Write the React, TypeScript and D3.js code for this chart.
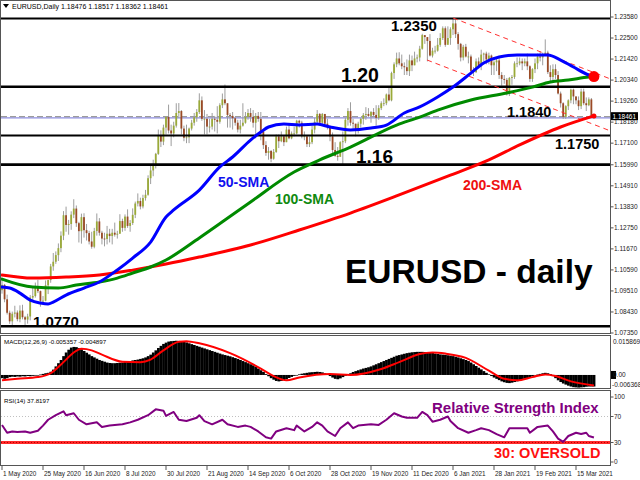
import React from "react";
import * as d3 from "d3";

// ---------------- DATA ----------------
const FIRST_OPEN = 1.0955;
// daily bars: [close, high, low]  (open = previous close)
const may2020 = [
  [1.0982, 1.1019, 1.0937], [1.0908, 1.0987, 1.0893], [1.0839, 1.0932, 1.083], [1.0795, 1.085, 1.0782], [1.0834, 1.0845, 1.0767],
  [1.084, 1.0875, 1.0815], [1.0806, 1.0851, 1.0795], [1.085, 1.0877, 1.079], [1.0816, 1.088, 1.0805], [1.0804, 1.0823, 1.0775],
  [1.082, 1.0834, 1.0783], [1.0917, 1.093, 1.08], [1.0925, 1.0976, 1.0903], [1.0976, 1.0994, 1.0917], [1.095, 1.1008, 1.094],
  [1.09, 1.0953, 1.087], [1.0901, 1.0925, 1.0886], [1.098, 1.1005, 1.0898], [1.1007, 1.1009, 1.0935], [1.1077, 1.109, 1.0993],
  [1.1101, 1.1146, 1.1055],
];
const jun2020 = [
  [1.1135, 1.1154, 1.109], [1.1171, 1.1195, 1.1105], [1.1235, 1.1257, 1.115], [1.134, 1.1361, 1.1212], [1.129, 1.1384, 1.1255],
  [1.1295, 1.1316, 1.124], [1.1343, 1.136, 1.1265], [1.1374, 1.1422, 1.1325], [1.1299, 1.139, 1.128], [1.1258, 1.1306, 1.12],
  [1.133, 1.1348, 1.1194], [1.1263, 1.135, 1.1225], [1.1248, 1.1295, 1.121], [1.1205, 1.126, 1.119], [1.1178, 1.1255, 1.1168],
  [1.1259, 1.1275, 1.117], [1.1308, 1.1349, 1.1235], [1.125, 1.1325, 1.1235], [1.122, 1.126, 1.119], [1.1218, 1.125, 1.118],
  [1.1245, 1.1285, 1.119], [1.1233, 1.127, 1.12],
];
const jul2020 = [
  [1.125, 1.127, 1.119], [1.124, 1.1302, 1.123], [1.1245, 1.126, 1.122], [1.131, 1.1345, 1.1245], [1.1275, 1.1322, 1.1255],
  [1.1333, 1.1344, 1.126], [1.1285, 1.137, 1.1275], [1.13, 1.1315, 1.1255], [1.1342, 1.1375, 1.129], [1.14, 1.141, 1.1325],
  [1.1413, 1.1452, 1.1385], [1.1385, 1.143, 1.137], [1.1428, 1.1445, 1.1375], [1.1445, 1.147, 1.1415], [1.153, 1.1545, 1.144],
  [1.157, 1.1601, 1.15], [1.1595, 1.1625, 1.154], [1.1655, 1.166, 1.158], [1.175, 1.178, 1.165], [1.1718, 1.1776, 1.169],
  [1.179, 1.1805, 1.17], [1.1845, 1.1848, 1.1755], [1.1775, 1.1908, 1.176],
];
const aug2020 = [
  [1.176, 1.1805, 1.1695], [1.18, 1.182, 1.174], [1.1865, 1.1915, 1.179], [1.1875, 1.1916, 1.184], [1.1785, 1.188, 1.1755],
  [1.1738, 1.18, 1.172], [1.174, 1.1805, 1.171], [1.1785, 1.179, 1.171], [1.1815, 1.183, 1.1775], [1.1843, 1.1865, 1.18],
  [1.187, 1.1885, 1.182], [1.193, 1.1966, 1.186], [1.1835, 1.195, 1.1825], [1.1835, 1.188, 1.1755], [1.1795, 1.186, 1.1755],
  [1.1795, 1.1835, 1.1765], [1.1835, 1.1865, 1.178], [1.183, 1.185, 1.177], [1.182, 1.19, 1.176], [1.1905, 1.1915, 1.181],
  [1.1935, 1.1965, 1.189],
];
const sep2020 = [
  [1.1915, 1.2011, 1.1905], [1.1855, 1.1915, 1.179], [1.185, 1.1865, 1.179], [1.1838, 1.187, 1.178], [1.1815, 1.1845, 1.18],
  [1.178, 1.183, 1.1765], [1.18, 1.183, 1.176], [1.1815, 1.1915, 1.1795], [1.1845, 1.187, 1.181], [1.1865, 1.1885, 1.183],
  [1.1845, 1.189, 1.182], [1.1815, 1.188, 1.179], [1.185, 1.1865, 1.1735], [1.1835, 1.187, 1.182], [1.177, 1.187, 1.1725],
  [1.17, 1.178, 1.168], [1.166, 1.172, 1.1645], [1.167, 1.169, 1.1625], [1.163, 1.1675, 1.1612], [1.1665, 1.168, 1.1625],
  [1.1745, 1.1755, 1.166], [1.172, 1.1755, 1.1685],
];
const oct2020 = [
  [1.1745, 1.177, 1.1715], [1.1715, 1.175, 1.1695], [1.178, 1.1795, 1.1715], [1.1735, 1.1805, 1.173], [1.176, 1.177, 1.173],
  [1.176, 1.1795, 1.1745], [1.1825, 1.183, 1.1755], [1.1815, 1.183, 1.179], [1.1745, 1.1825, 1.1735], [1.1745, 1.177, 1.1725],
  [1.1705, 1.175, 1.169], [1.1715, 1.1745, 1.169], [1.178, 1.18, 1.1705], [1.182, 1.184, 1.176], [1.186, 1.188, 1.1805],
  [1.1815, 1.1865, 1.18], [1.186, 1.1865, 1.1805], [1.181, 1.186, 1.18], [1.1795, 1.1835, 1.178], [1.1745, 1.18, 1.172],
  [1.1675, 1.1765, 1.165], [1.1645, 1.1715, 1.164],
];
const nov2020 = [
  [1.164, 1.169, 1.162], [1.1715, 1.172, 1.164], [1.172, 1.177, 1.1603], [1.183, 1.184, 1.171], [1.1875, 1.189, 1.18],
  [1.1815, 1.192, 1.18], [1.181, 1.1835, 1.178], [1.178, 1.181, 1.1745], [1.181, 1.182, 1.176], [1.1835, 1.184, 1.179],
  [1.1855, 1.1865, 1.1805], [1.186, 1.1895, 1.183], [1.185, 1.189, 1.1845], [1.187, 1.1875, 1.1815], [1.1855, 1.189, 1.1845],
  [1.184, 1.1905, 1.18], [1.189, 1.1905, 1.183], [1.1915, 1.1925, 1.188], [1.1915, 1.194, 1.19], [1.196, 1.1965, 1.1905],
  [1.193, 1.2, 1.1925],
];
const dec2020 = [
  [1.207, 1.2077, 1.1925], [1.2115, 1.2125, 1.204], [1.2145, 1.2175, 1.21], [1.212, 1.2177, 1.211], [1.2105, 1.2165, 1.209],
  [1.21, 1.2125, 1.206], [1.208, 1.214, 1.206], [1.2135, 1.2165, 1.2055], [1.211, 1.216, 1.208], [1.2145, 1.218, 1.211],
  [1.215, 1.2165, 1.2125], [1.2195, 1.221, 1.213], [1.2265, 1.2272, 1.219], [1.2255, 1.2265, 1.222], [1.2235, 1.225, 1.213],
  [1.216, 1.227, 1.2155], [1.2185, 1.22, 1.215], [1.2185, 1.221, 1.217], [1.2215, 1.225, 1.218], [1.225, 1.2275, 1.2205],
  [1.23, 1.231, 1.224], [1.2215, 1.231, 1.2205],
];
const jan2021 = [
  [1.225, 1.231, 1.2225], [1.2295, 1.2305, 1.2215], [1.2325, 1.2349, 1.2265], [1.227, 1.2345, 1.225], [1.222, 1.228, 1.219],
  [1.215, 1.2225, 1.213], [1.2205, 1.2215, 1.2135], [1.2155, 1.222, 1.215], [1.2155, 1.218, 1.212], [1.208, 1.2165, 1.2075],
  [1.2075, 1.21, 1.2055], [1.213, 1.2145, 1.207], [1.2105, 1.215, 1.2095], [1.2165, 1.219, 1.2085], [1.217, 1.2175, 1.213],
  [1.214, 1.218, 1.2115], [1.216, 1.2175, 1.2115], [1.211, 1.2165, 1.206], [1.2125, 1.2135, 1.206], [1.2135, 1.215, 1.208],
];
const feb2021 = [
  [1.206, 1.215, 1.204], [1.204, 1.2075, 1.2005], [1.2035, 1.206, 1.2015], [1.1965, 1.2045, 1.1955], [1.2045, 1.205, 1.1952],
  [1.205, 1.206, 1.201], [1.212, 1.213, 1.204], [1.212, 1.215, 1.21], [1.213, 1.215, 1.211], [1.212, 1.2145, 1.2085],
  [1.213, 1.2145, 1.2105], [1.2105, 1.217, 1.2085], [1.204, 1.211, 1.2025], [1.209, 1.2095, 1.2025], [1.212, 1.2145, 1.207],
  [1.2155, 1.217, 1.209], [1.215, 1.218, 1.213], [1.2165, 1.2175, 1.211], [1.2175, 1.2243, 1.216], [1.2075, 1.2185, 1.2065],
];
const mar2021 = [
  [1.205, 1.211, 1.2025], [1.209, 1.2115, 1.203], [1.206, 1.2115, 1.204], [1.1965, 1.208, 1.196], [1.1915, 1.1975, 1.1893],
  [1.1845, 1.192, 1.1835], [1.19, 1.1905, 1.1835], [1.193, 1.1935, 1.188], [1.1985, 1.199, 1.1915], [1.195, 1.199, 1.191],
  [1.193, 1.195, 1.191], [1.19, 1.195, 1.188], [1.1975, 1.199, 1.1885], [1.1915, 1.199, 1.1905], [1.1905, 1.1945, 1.1875],
  [1.1935, 1.1945, 1.19], [1.18476, 1.1942, 1.1842], [1.18461, 1.18517, 1.18362],
];

// moving averages: [bar, price]
const sma50 = [
  [0, 1.0971], [3, 1.0966], [7, 1.094], [11, 1.0904], [15, 1.0889], [18, 1.0884], [20, 1.0894], [25, 1.093], [32, 1.0966],
  [38, 1.0997], [45, 1.1059], [51, 1.112], [58, 1.1202], [64, 1.1331], [67, 1.1367], [77, 1.1469], [85, 1.1588], [90, 1.1639],
  [97, 1.1726], [101, 1.1767], [104, 1.1793], [110, 1.1808], [116, 1.1803], [123, 1.1808], [128, 1.1793], [136, 1.1778],
  [144, 1.1788], [150, 1.1803], [157, 1.1865], [163, 1.1896], [170, 1.1947], [176, 1.1998], [183, 1.207], [188, 1.2122],
  [194, 1.2153], [201, 1.2163], [207, 1.2163], [213, 1.2163], [218, 1.2137], [223, 1.2101], [229, 1.206], [231, 1.2052],
];
const sma100 = [
  [0, 1.1012], [12, 1.0971], [22, 1.0966], [29, 1.0981], [38, 1.0997], [45, 1.1017], [51, 1.1043], [58, 1.1074], [64, 1.111],
  [77, 1.1223], [87, 1.1315], [97, 1.1408], [114, 1.1562], [124, 1.1624], [136, 1.169], [154, 1.1803], [163, 1.1844],
  [170, 1.188], [183, 1.1932], [197, 1.1968], [207, 1.1998], [214, 1.2024], [221, 1.2034], [229, 1.205], [231, 1.2052],
];
const sma200 = [
  [0, 1.1033], [12, 1.1017], [25, 1.1022], [38, 1.1033], [51, 1.1058], [64, 1.1089], [77, 1.1125], [97, 1.1187],
  [116, 1.1264], [136, 1.1351], [155, 1.1444], [175, 1.1546], [190, 1.1624], [202, 1.1701], [218, 1.1793], [231, 1.185],
];

// MACD(12,26,9) main line per bar, in units of 1e-4
const macdMain = [
  -15, -18, -15, -10, -8, -9, -7, -8, -6, -7, -5, -6, -4, -3, -1, 2, 5, 8, 10, 15, 25, 40, 55, 70, 88,
  105, 118, 128, 131, 130, 126, 120, 112, 104, 96, 88, 82, 76, 70, 66, 62, 58, 56, 55, 55, 56, 57, 58,
  60, 62, 65, 68, 70, 72, 75, 78, 82, 88, 95, 105, 115, 126, 136, 145, 151, 156, 158, 159, 160, 159, 157, 155,
  152, 148, 144, 140, 136, 132, 128, 124, 120, 116, 112, 108, 104, 100, 96, 93, 90, 87,
  83, 79, 75, 70, 65, 60, 55, 50, 45, 38, 30, 22, 14, 4, -6, -15, -22, -28, -30, -28, -24, -20, -14, -9, -4,
  0, 3, 6, 8, 10, 12, 13, 14, 15, 14, 12, 8, 3, -5, -12, -18, -20, -16, -10, -4, 2, 8, 14, 18, 22, 26, 30, 33,
  36, 40, 45, 50, 55, 60, 65, 70, 75, 80, 85, 90, 93, 96, 99, 102, 104, 106, 107, 108, 108, 108, 107, 106, 105, 103,
  100, 98, 96, 95, 94, 92, 90, 88, 85, 82, 78, 74, 70, 65, 58, 50, 42, 34, 26, 18, 10, 3,
  -5, -12, -18, -24, -30, -34, -37, -38, -36, -33, -30, -26, -22, -18, -14, -10, -6, -2, 2, 5, 8, 10, 8,
  4, -5, -15, -25, -33, -40, -45, -50, -54, -57, -58, -59, -58, -57, -55, -54, -54, -54,
];
// MACD signal line: [bar, value*1e-4]
const macdSignal = [
  [0, -25], [6, -18], [14, -10], [19, 8], [24, 60], [28, 105], [31, 122], [35, 115], [39, 95], [47, 62], [54, 60], [58, 72],
  [63, 115], [69, 155], [72, 158], [77, 148], [89, 102], [101, 30], [106, -5], [111, -25], [116, -12], [128, 4], [136, 0],
  [148, 28], [155, 60], [163, 98], [168, 105], [173, 100], [181, 80], [190, 20], [196, -18], [201, -25], [207, -10],
  [212, 2], [216, -5], [222, -30], [231, -49],
];
// RSI(14): [bar, value]
const rsi14 = [
  [0, 57], [2, 45], [4, 47], [6, 46], [9, 47], [11, 45], [14, 48], [16, 56], [18, 65], [21, 72], [24, 78], [25, 72], [28, 75],
  [30, 65], [33, 58], [37, 61], [39, 54], [42, 56], [47, 58], [50, 61], [53, 65], [57, 72], [60, 81], [63, 79], [64, 71],
  [67, 77], [69, 65], [72, 63], [76, 68], [77, 72], [79, 63], [82, 58], [86, 65], [88, 58], [92, 54], [95, 56], [97, 54],
  [100, 47], [103, 38], [105, 36], [107, 47], [111, 52], [114, 49], [115, 56], [118, 47], [121, 54], [123, 61], [125, 56],
  [127, 47], [130, 40], [132, 52], [135, 61], [137, 52], [139, 56], [144, 58], [147, 57], [150, 65], [153, 75], [156, 70],
  [158, 68], [162, 68], [164, 77], [166, 72], [168, 62], [171, 65], [174, 70], [175, 63], [178, 52], [182, 45], [185, 49],
  [187, 52], [190, 49], [193, 43], [196, 38], [198, 52], [201, 52], [205, 52], [206, 45], [209, 54], [213, 56], [215, 47],
  [217, 36], [219, 31], [221, 40], [224, 45], [226, 43], [228, 45], [229, 40], [231, 37.8],
];

const priceTickLabels = ["1.23580", "1.22500", "1.21420", "1.20340", "1.19260", "1.18180", "1.17100", "1.15990",
  "1.14910", "1.13830", "1.12750", "1.11670", "1.10590", "1.09510", "1.08430", "1.07350"];
const dateLabels = ["1 May 2020", "25 May 2020", "16 Jun 2020", "8 Jul 2020", "30 Jul 2020", "21 Aug 2020", "14 Sep 2020",
  "6 Oct 2020", "28 Oct 2020", "19 Nov 2020", "11 Dec 2020", "6 Jan 2021", "28 Jan 2021", "19 Feb 2021", "15 Mar 2021"];
const dateLabelStep = 16;

const keyLevels = [1.235, 1.2, 1.175, 1.16, 1.077];
const supportLevel = 1.184;
const lastPrice = 1.18461;
// channel trendlines: [[bar, price], [bar, price]]
const channelUpper = [[176, 1.2353], [238, 1.2037]];
const channelLower = [[165.9, 1.2137], [238, 1.1770]];

const macdMax = 0.015869;
const macdMin = -0.006368;
const macdTitle = "MACD(12,26,9) -0.005357 -0.004897";
const rsiTitle = "RSI(14) 37.8197";
const headerText = "EURUSD,Daily  1.18476 1.18517 1.18362 1.18461";

// ---------------- CHART ----------------
const FONT = "'Liberation Sans', Arial, sans-serif";
const BULL = "#9aaa38";
const BEAR = "#9a4a26";
const RIGHT = 610; // right edge of the plotting panels

export default function App() {
  const months = [may2020, jun2020, jul2020, aug2020, sep2020, oct2020, nov2020, dec2020, jan2021, feb2021, mar2021];
  const rows = months.flat();
  const bars = rows.map((r, i) => ({
    i,
    o: i === 0 ? FIRST_OPEN : rows[i - 1][0],
    c: r[0],
    h: r[1],
    l: r[2],
  }));

  const x = d3.scaleLinear().domain([0, 224]).range([2, 576]);
  const step = x(1) - x(0);
  const y = d3.scaleLinear().domain([1.0735, 1.2358]).range([333, 17]);
  const yM = d3.scaleLinear().domain([macdMin, macdMax]).range([388.6, 341]);
  const yR = d3.scaleLinear().domain([0, 100]).range([462, 397]);

  const maLine = d3
    .line<number[]>()
    .x((d) => x(d[0]))
    .y((d) => y(d[1]))
    .curve(d3.curveMonotoneX);
  const sigLine = d3
    .line<number[]>()
    .x((d) => x(d[0]))
    .y((d) => yM(d[1] * 1e-4))
    .curve(d3.curveMonotoneX);
  const rsiLine = d3
    .line<number[]>()
    .x((d) => x(d[0]))
    .y((d) => yR(d[1]));

  const axisX = RIGHT + 0.5;
  const labX = 614;

  return (
    <div style={{ position: "absolute", left: 0, top: 0, width: 640, height: 480, background: "#fff" }}>
      <svg width={640} height={480} style={{ display: "block", fontFamily: FONT }}>
        <rect x={0} y={0} width={640} height={480} fill="#fff" />
        <defs>
          <clipPath id="mainClip">
            <rect x={1} y={1} width={RIGHT - 1} height={332} />
          </clipPath>
          <clipPath id="macdClip">
            <rect x={1} y={336} width={RIGHT - 1} height={53} />
          </clipPath>
          <clipPath id="rsiClip">
            <rect x={1} y={391} width={RIGHT - 1} height={74} />
          </clipPath>
        </defs>

        {/* ---------- MAIN PANEL ---------- */}
        <g clipPath="url(#mainClip)">
          <line x1={1} x2={RIGHT} y1={y(supportLevel)} y2={y(supportLevel)} stroke="#8c8ce0" strokeWidth={1.2} />
          <line x1={1} x2={RIGHT} y1={y(lastPrice)} y2={y(lastPrice)} stroke="#8a8a8a" strokeWidth={1} strokeDasharray="6,3" />

          {bars.map((b) => {
            const cx = x(b.i);
            const up = b.c >= b.o;
            const top = y(Math.max(b.o, b.c));
            const bot = y(Math.min(b.o, b.c));
            return (
              <g key={b.i}>
                <line x1={cx} x2={cx} y1={y(b.h)} y2={y(b.l)} stroke="#9d9d9d" strokeWidth={1} />
                <rect x={cx - 0.9} y={top} width={1.8} height={Math.max(0.8, bot - top)} fill={up ? BULL : BEAR} />
              </g>
            );
          })}

          {keyLevels.map((lv, k) => (
            <line key={k} x1={1} x2={RIGHT} y1={y(lv)} y2={y(lv)} stroke="#000" strokeWidth={lv === 1.175 || lv === 1.235 ? 2 : 2.6} />
          ))}

          {[channelUpper, channelLower].map((seg, k) => (
            <line
              key={k}
              x1={x(seg[0][0])}
              y1={y(seg[0][1])}
              x2={x(seg[1][0])}
              y2={y(seg[1][1])}
              stroke="#ff3030"
              strokeWidth={1}
              strokeDasharray="5,4"
            />
          ))}

          <path d={maLine(sma200) || ""} fill="none" stroke="#ff0000" strokeWidth={3} strokeLinecap="round" />
          <path d={maLine(sma100) || ""} fill="none" stroke="#008a00" strokeWidth={3} strokeLinecap="round" />
          <path d={maLine(sma50) || ""} fill="none" stroke="#0000ff" strokeWidth={3} strokeLinecap="round" />
          <circle cx={x(sma50[sma50.length - 1][0])} cy={y(sma50[sma50.length - 1][1])} r={5.5} fill="#ff0000" />
          <circle cx={x(sma200[sma200.length - 1][0])} cy={y(sma200[sma200.length - 1][1])} r={2.5} fill="#ff0000" />
        </g>

        {/* annotations */}
        <g fontWeight="bold" fill="#000">
          <text x={391} y={31} fontSize={15}>1.2350</text>
          <text x={341} y={82} fontSize={19.5}>1.20</text>
          <text x={507} y={117} fontSize={14.5}>1.1840</text>
          <text x={555} y={149} fontSize={14.5}>1.1750</text>
          <text x={356} y={163} fontSize={19}>1.16</text>
          <text x={33} y={327} fontSize={15}>1.0770</text>
          <text x={218} y={187} fontSize={14} fill="#1010ee">50-SMA</text>
          <text x={275} y={204} fontSize={14} fill="#0f8a0f">100-SMA</text>
          <text x={463} y={190} fontSize={14} fill="#ee1010">200-SMA</text>
          <text x={345} y={283} fontSize={33.5}>EURUSD - daily</text>
        </g>

        {/* header */}
        <path d="M3,4 L9,4 L6,8 Z" fill="#000" />
        <text x={12} y={9} fontSize={7} fill="#000">{headerText}</text>

        {/* ---------- MACD PANEL ---------- */}
        <g clipPath="url(#macdClip)">
          {macdMain.map((v, i) => {
            const val = v * 1e-4;
            const y0 = yM(0);
            const y1 = yM(val);
            return (
              <rect key={i} x={x(i) - step / 2} y={Math.min(y0, y1)} width={step + 0.2} height={Math.max(0.6, Math.abs(y1 - y0))} fill="#000" />
            );
          })}
          <path d={sigLine(macdSignal) || ""} fill="none" stroke="#ff0000" strokeWidth={2} />
        </g>
        <text x={4} y={344} fontSize={6.2} fill="#000">{macdTitle}</text>

        {/* ---------- RSI PANEL ---------- */}
        <g clipPath="url(#rsiClip)">
          <line x1={1} x2={RIGHT} y1={yR(70)} y2={yR(70)} stroke="#c0c0c0" strokeWidth={1} strokeDasharray="1,2" />
          <line x1={1} x2={RIGHT} y1={yR(30)} y2={yR(30)} stroke="#ff2a2a" strokeWidth={3} />
          <line x1={1} x2={RIGHT} y1={yR(30)} y2={yR(30)} stroke="#b00000" strokeWidth={1} strokeDasharray="1,2" />
          <path d={rsiLine(rsi14) || ""} fill="none" stroke="#800080" strokeWidth={2} strokeLinejoin="round" />
        </g>
        <text x={4} y={403} fontSize={6.2} fill="#000">{rsiTitle}</text>
        <text x={432} y={413} fontSize={15} fontWeight="bold" fill="#800080">Relative Strength Index</text>
        <text x={494} y={458} fontSize={14.5} fontWeight="bold" fill="#ff1010">30: OVERSOLD</text>

        {/* ---------- FRAMES ---------- */}
        <rect x={0.5} y={0.5} width={RIGHT} height={333} fill="none" stroke="#555" strokeWidth={1} />
        <rect x={0.5} y={335.5} width={RIGHT} height={53} fill="none" stroke="#555" strokeWidth={1} />
        <rect x={0.5} y={390.5} width={RIGHT} height={75} fill="none" stroke="#555" strokeWidth={1} />

        {/* ---------- RIGHT AXIS ---------- */}
        <g fontSize={6.5} fill="#222">
          {priceTickLabels.map((t) => {
            const yy = y(parseFloat(t));
            return (
              <g key={t}>
                <line x1={axisX} x2={axisX + 3} y1={yy} y2={yy} stroke="#555" />
                <text x={labX} y={yy + 2.3}>{t}</text>
              </g>
            );
          })}
          <rect x={611} y={y(lastPrice) - 4.5} width={27} height={8} fill="#000" />
          <text x={612.5} y={y(lastPrice) + 2} fill="#fff">{lastPrice.toFixed(5)}</text>

          <text x={labX - 1} y={yM(macdMax) + 3}>{macdMax.toFixed(6)}</text>
          <rect x={611} y={yM(0) - 4} width={5} height={8} fill="#000" />
          <text x={613} y={yM(0) + 2.3}>0.00</text>
          <text x={labX - 2} y={yM(macdMin) - 2}>{macdMin.toFixed(6)}</text>

          {[100, 70, 30, 0].map((v) => (
            <g key={v}>
              <line x1={axisX} x2={axisX + 3} y1={yR(v)} y2={yR(v)} stroke="#555" />
              <text x={labX} y={yR(v) + 2.3}>{v}</text>
            </g>
          ))}
        </g>

        {/* ---------- DATE AXIS ---------- */}
        <g fontSize={6.4} fill="#222">
          {dateLabels.map((t, k) => {
            const xx = x(k * dateLabelStep);
            return (
              <g key={t}>
                <line x1={xx} x2={xx} y1={466} y2={470} stroke="#555" />
                <text x={xx + 1} y={476}>{t}</text>
              </g>
            );
          })}
        </g>
      </svg>
    </div>
  );
}
